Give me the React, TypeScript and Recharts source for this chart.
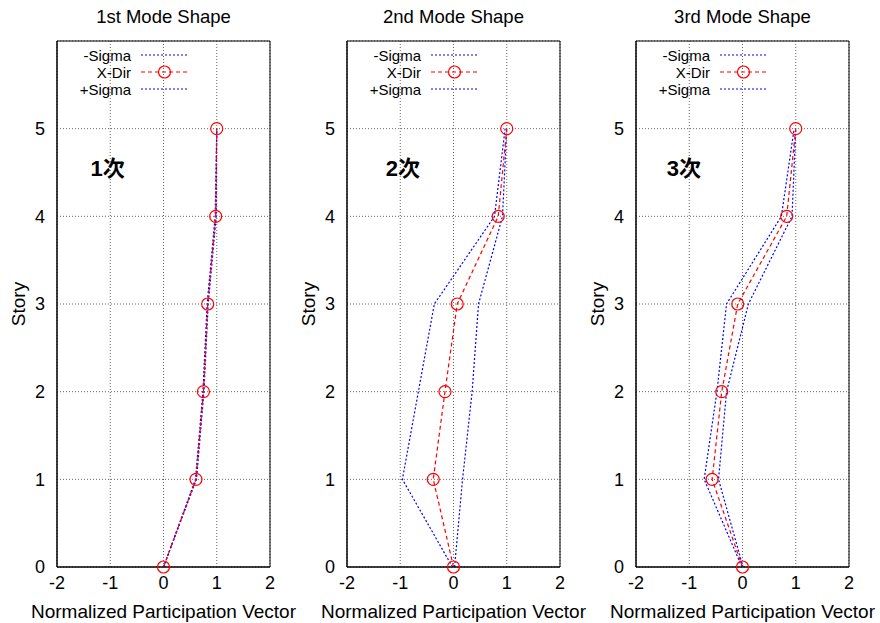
import {
  CartesianGrid,
  Legend,
  Line,
  LineChart,
  ReferenceArea,
  ReferenceDot,
  XAxis,
  YAxis,
} from "recharts";

const STORIES = [0, 1, 2, 3, 4, 5];
const X_TICKS = [-2, -1, 0, 1, 2];
const Y_TICKS = [0, 1, 2, 3, 4, 5];

const TITLES = ["1st Mode Shape", "2nd Mode Shape", "3rd Mode Shape"];
const MODE_LABELS = ["1次", "2次", "3次"];
const MODE_LABEL_X = [-1.05, -0.95, -1.1];
const MODE_LABEL_Y = 4.55;

const MODE1_MINUS = [0, 0.6, 0.74, 0.82, 0.97, 1.0];
const MODE1_XDIR = [0, 0.61, 0.75, 0.83, 0.98, 1.0];
const MODE1_PLUS = [0, 0.62, 0.76, 0.84, 0.99, 1.0];

const MODE2_MINUS = [-0.02, -0.96, -0.66, -0.36, 0.77, 0.97];
const MODE2_XDIR = [0, -0.38, -0.16, 0.07, 0.84, 1.0];
const MODE2_PLUS = [0.02, 0.17, 0.35, 0.47, 0.92, 1.0];

const MODE3_MINUS = [-0.01, -0.72, -0.48, -0.3, 0.73, 0.97];
const MODE3_XDIR = [0, -0.57, -0.39, -0.09, 0.83, 1.0];
const MODE3_PLUS = [0.01, -0.45, -0.3, 0.11, 0.93, 1.0];

const MINUS = [MODE1_MINUS, MODE2_MINUS, MODE3_MINUS];
const XDIR = [MODE1_XDIR, MODE2_XDIR, MODE3_XDIR];
const PLUS = [MODE1_PLUS, MODE2_PLUS, MODE3_PLUS];

const FONT = '"Liberation Sans", Arial, "Noto Sans CJK JP", sans-serif';
const RED = "#ff0000";
const BLUE = "#0000ff";

const PANEL_LEFT = [0, 290, 579];
const CHART_W = 300;
const CHART_H = 623;
const Y_AXIS_W = 57;
const PLOT_W = 213;

const legendItems = [
  { label: "-Sigma", color: BLUE, dash: "2 2", dot: false },
  { label: "X-Dir", color: RED, dash: "4 3", dot: true },
  { label: "+Sigma", color: BLUE, dash: "2 2", dot: false },
];

const renderLegend = () => (
  <svg width={CHART_W} height={100} style={{ display: "block" }}>
    {legendItems.map((it, i) => {
      const y = 55 + i * 17;
      return (
        <g key={it.label}>
          <text
            x={Y_AXIS_W + 74}
            y={y}
            textAnchor="end"
            dominantBaseline="central"
            fontSize={15}
            fontFamily={FONT}
            fill="#000"
          >
            {it.label}
          </text>
          <line
            x1={Y_AXIS_W + 84}
            x2={Y_AXIS_W + 131}
            y1={y}
            y2={y}
            stroke={it.color}
            strokeDasharray={it.dash}
            strokeWidth={1.2}
          />
          {it.dot && (
            <circle cx={Y_AXIS_W + 107.5} cy={y} r={6} fill="none" stroke={it.color} strokeWidth={1.2} />
          )}
        </g>
      );
    })}
  </svg>
);

const Panel = ({ idx }: { idx: number }) => {
  const data = STORIES.map((s, i) => ({
    story: s,
    minus: MINUS[idx][i],
    xdir: XDIR[idx][i],
    plus: PLUS[idx][i],
  }));
  const cx = Y_AXIS_W + PLOT_W / 2;
  return (
    <div style={{ position: "absolute", left: PANEL_LEFT[idx], top: 0 }}>
      <LineChart
        layout="vertical"
        width={CHART_W}
        height={CHART_H}
        data={data}
        margin={{ top: 41, right: CHART_W - Y_AXIS_W - PLOT_W, left: 0, bottom: 0 }}
        style={{ fontFamily: FONT }}
      >
        <CartesianGrid stroke="#666" strokeDasharray="1 2" />
        <XAxis
          type="number"
          domain={[-2, 2]}
          ticks={X_TICKS}
          height={56}
          tickLine={false}
          tickSize={0}
          tickMargin={9}
          axisLine={{ stroke: "#000" }}
          tick={{ fontSize: 18, fill: "#000", fontFamily: FONT }}
          label={{
            value: "Normalized Participation Vector",
            position: "insideBottom",
            offset: 5,
            fontSize: 19,
            fill: "#000",
            fontFamily: FONT,
          }}
        />
        <YAxis
          type="number"
          dataKey="story"
          domain={[0, 6]}
          ticks={Y_TICKS}
          reversed
          width={Y_AXIS_W}
          tickLine={false}
          tickSize={0}
          tickMargin={12}
          axisLine={{ stroke: "#000" }}
          tick={{ fontSize: 18, fill: "#000", fontFamily: FONT }}
          label={{
            value: "Story",
            angle: -90,
            position: "center",
            dx: -10,
            fontSize: 19,
            fill: "#000",
            fontFamily: FONT,
          }}
        />
        <ReferenceArea x1={-2} x2={2} y1={0} y2={6} fill="none" stroke="#000" strokeWidth={1} />
        <Legend
          layout="vertical"
          align="center"
          verticalAlign="middle"
          content={renderLegend}
          wrapperStyle={{ left: 0, top: 0, width: CHART_W, height: 100 }}
        />
        <ReferenceDot
          x={MODE_LABEL_X[idx]}
          y={MODE_LABEL_Y}
          r={0}
          fill="none"
          stroke="none"
          label={{
            value: MODE_LABELS[idx],
            position: "center",
            fontSize: 22,
            fontWeight: "bold",
            fill: "#000",
            fontFamily: FONT,
          }}
        />
        <Line
          dataKey="minus"
          name="-Sigma"
          stroke={BLUE}
          strokeDasharray="2 2"
          strokeWidth={1.2}
          dot={false}
          isAnimationActive={false}
        />
        <Line
          dataKey="plus"
          name="+Sigma"
          stroke={BLUE}
          strokeDasharray="2 2"
          strokeWidth={1.2}
          dot={false}
          isAnimationActive={false}
        />
        <Line
          dataKey="xdir"
          name="X-Dir"
          stroke={RED}
          strokeDasharray="4 3"
          strokeWidth={1.2}
          dot={{ r: 6, fill: "none", stroke: RED, strokeWidth: 1.2, strokeDasharray: "" }}
          isAnimationActive={false}
        />
        <text
          x={cx}
          y={16}
          textAnchor="middle"
          dominantBaseline="central"
          fontSize={18.5}
          fontFamily={FONT}
          fill="#000"
        >
          {TITLES[idx]}
        </text>
      </LineChart>
    </div>
  );
};

export default function App() {
  return (
    <div
      style={{
        position: "absolute",
        left: 0,
        top: 0,
        width: 880,
        height: 623,
        background: "#fff",
        overflow: "hidden",
      }}
    >
      {[0, 1, 2].map((i) => (
        <Panel key={i} idx={i} />
      ))}
    </div>
  );
}
